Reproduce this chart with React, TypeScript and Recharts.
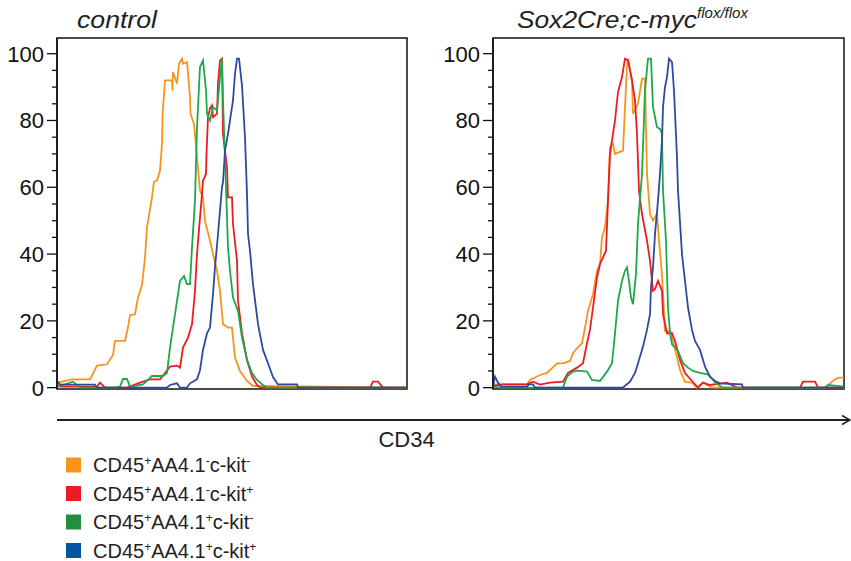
import React from 'react';
import { LineChart, Line, XAxis, YAxis, ReferenceArea } from 'recharts';

type Pt = [number, number];

// ---------- categories / labels ----------
const panelTitles = ['control', 'Sox2Cre;c-myc'];
const panelTitleSup = ['', 'flox/flox'];
const axisLabel = 'CD34';
const legendParts: [string, string][][] = [
  [['CD45', '+'], ['AA4.1', '-'], ['c-kit', '-']],
  [['CD45', '+'], ['AA4.1', '-'], ['c-kit', '+']],
  [['CD45', '+'], ['AA4.1', '+'], ['c-kit', '-']],
  [['CD45', '+'], ['AA4.1', '+'], ['c-kit', '+']],
];
const lineColors = ['#F7941E', '#ED1C24', '#1FA84A', '#2E4A9E'];
const legendColors = ['#F7941E', '#ED1C24', '#258D3E', '#0054A6'];

// ---------- tick values ----------
const yTicks = [0, 5, 10, 15, 20, 25, 30, 35, 40, 45, 50, 55, 60, 65, 70, 75, 80, 85, 90, 95, 100];
const yDomain: [number, number] = [-0.4, 104.7];
const xDomainControl: [number, number] = [0, 350];
const xDomainMutant: [number, number] = [0, 351];

// ---------- control panel series (CD34 channel, % of max) ----------
const controlOrange: Pt[] = [
  [0, 1.5], [15, 2.5], [33, 2.5], [40, 6.6], [50, 7], [56, 9.8], [58, 14], [68, 14], [71, 18], [73, 21.7],
  [78, 22], [81, 27], [85, 30.7], [88, 39], [90, 48], [95, 57], [97, 61.6], [100, 62], [103, 65], [105, 73],
  [105.5, 81.5], [108, 92], [115, 92], [115.5, 89], [116, 94.5], [120, 91], [122, 97], [125, 98.5], [126, 97],
  [130, 97.5], [133, 87], [133.5, 82], [137, 79], [140, 69], [143, 59], [146, 57], [148, 50], [153, 44],
  [156, 40], [160, 35], [163, 29], [166, 19], [171, 18], [175, 18], [178, 9], [183, 5], [190, 2], [196, 0.5],
  [350, 0],
];
const controlRed: Pt[] = [
  [0, 1], [3, 0.3], [40, 0.3], [43, 1.5], [48, 0], [70, 0], [83, 1.5], [93, 2.5], [103, 2.5], [113, 6.3],
  [120, 6.6], [123, 6], [126, 12], [131, 15], [135, 19], [138, 29], [140, 40], [143, 51], [145, 58], [146, 62],
  [149, 64], [149.5, 70], [151, 81], [153, 83.6], [155, 84.5], [156, 81], [160, 82], [161, 91], [163, 98],
  [165, 98.5], [166, 76], [170, 66], [171, 57], [175, 57], [176, 49], [180, 38], [181, 26], [185, 16.3],
  [190, 8.3], [195, 3.3], [200, 0.8], [203, 0], [313, 0], [316, 1.8], [321, 1.8], [326, 0], [350, 0],
];
const controlGreen: Pt[] = [
  [0, 0.5], [8, 1], [16, 1.8], [23, 0], [58, 0], [63, 0.3], [66, 2.6], [70, 2.6], [73, 0.3], [86, 1],
  [95, 3.5], [106, 3.5], [110, 4.4], [113, 12], [116, 18], [120, 26], [123, 32], [127, 33.4], [130, 31],
  [133, 31], [135, 42], [138, 56], [140, 78], [143, 96], [146, 98], [149, 89], [150, 82], [153, 80],
  [156, 84], [160, 83], [163, 93], [165, 98.5], [166, 86], [169, 60], [171, 42], [173, 35], [176, 27],
  [181, 23], [185, 15], [190, 8.3], [195, 4.4], [200, 2.3], [206, 0.8], [210, 0], [350, 0],
];
const controlBlue: Pt[] = [
  [0, 2], [3, 1], [8, 0.9], [38, 0.9], [40, 0], [110, 0], [113, 0.8], [120, 1.3], [123, 0], [130, 0],
  [133, 1.3], [140, 2.5], [143, 5.2], [146, 11.3], [150, 16.3], [153, 18], [156, 28], [158, 36], [161, 46],
  [163, 53], [165, 60], [166, 61.5], [168, 71], [171, 76], [173, 80], [176, 86], [178, 94], [180, 98.5],
  [182, 98.5], [185, 90.5], [188, 75], [190, 58], [191, 46], [193, 41], [196, 31], [201, 19], [206, 11.3],
  [211, 7.3], [216, 3.2], [220, 1.4], [221, 1], [240, 1], [241, 0], [350, 0],
];

// ---------- Sox2Cre;c-myc flox/flox panel series ----------
const mutantOrange: Pt[] = [
  [0, 0.5], [2, 1], [34, 1], [37, 2.3], [47, 3.8], [54, 4.4], [64, 7.3], [70, 7.3], [77, 8], [80, 10.3],
  [84, 11.8], [89, 13.3], [92, 18], [95, 23], [100, 28], [104, 35], [107, 37], [109, 45], [112, 48],
  [115, 56], [117, 72], [120, 73], [122, 70], [130, 71], [132, 84], [134, 96], [135, 98.5], [139, 92],
  [140, 82], [145, 85], [149, 92.5], [152, 92.5], [154, 64], [157, 52], [160, 50], [164, 52], [166, 44],
  [169, 34], [172, 17], [177, 17], [180, 14], [187, 5.3], [192, 1.7], [199, 1.5], [204, 0], [210, 1.5],
  [219, 0], [332, 0], [337, 1.3], [342, 2.5], [346, 3], [351, 3],
];
const mutantRed: Pt[] = [
  [0, 0.5], [10, 1], [34, 1], [40, 1.8], [47, 0.9], [57, 1.5], [70, 1.8], [75, 4.4], [84, 6], [90, 7.3],
  [94, 13.3], [97, 17.3], [100, 24], [104, 33], [107, 37], [110, 39], [113, 41], [115, 56], [117, 70],
  [122, 80], [125, 88.5], [129, 93], [132, 98.5], [135, 98], [139, 92], [142, 86], [144, 76], [146, 59],
  [149, 52], [154, 44], [157, 38], [160, 29], [162, 29.5], [165, 32], [169, 29], [170, 22], [174, 16.3],
  [179, 16.3], [182, 14], [187, 8.3], [192, 4.4], [199, 2], [205, 0], [210, 1.5], [217, 0.8], [234, 1.5],
  [244, 0], [307, 0], [310, 1.8], [322, 1.8], [325, 0], [351, 0],
];
const mutantGreen: Pt[] = [
  [0, 0.3], [7, 0], [70, 0], [74, 3.3], [80, 4.8], [85, 5.1], [94, 4.8], [99, 2.3], [107, 2], [114, 4.8],
  [119, 7.3], [122, 16.3], [125, 26], [129, 32], [132, 35], [134, 36], [136, 32], [138, 27], [140, 25],
  [143, 34], [145, 49], [149, 64], [152, 89], [155, 98.5], [158, 98.5], [160, 84], [164, 78], [167, 77.5],
  [169, 76], [170, 59], [173, 44], [175, 24], [177, 16.3], [179, 13], [185, 11], [190, 7.3], [195, 6],
  [200, 5], [207, 4.4], [215, 4], [222, 1.7], [227, 0.5], [230, 0], [332, 0], [335, 0.8], [351, 0.3],
];
const mutantBlue: Pt[] = [
  [0, 0.5], [2, 3.3], [5, 1.5], [8, 0.3], [34, 0.3], [36, 1], [40, 1], [42, 0], [130, 0], [133, 0.8],
  [137, 1.8], [142, 4.4], [145, 7.3], [150, 12.3], [154, 17.3], [157, 22], [158, 30], [160, 36], [162, 46],
  [165, 56], [167, 64], [169, 74], [170, 84], [172, 90], [174, 93], [176, 98.5], [179, 97.5], [181, 89],
  [184, 69], [185, 59], [189, 40], [192, 32], [195, 24], [199, 17.3], [202, 14], [207, 11.3], [212, 6.3],
  [217, 3.3], [222, 2], [227, 1.3], [249, 1], [250, 0], [351, 0],
];

const controlSeries = [controlOrange, controlRed, controlGreen, controlBlue];
const mutantSeries = [mutantOrange, mutantRed, mutantGreen, mutantBlue];

const FONT = '"Liberation Sans", Arial, Helvetica, sans-serif';

const toRows = (pts: Pt[]) => pts.map(([x, y]) => ({ x, y }));

const makeTick = (labelGap: number, majorLen: number) => (props: any) => {
  const { x, y, payload } = props;
  const v = payload.value as number;
  const major = v % 20 === 0;
  const len = major ? majorLen : 5;
  return (
    <g>
      <line x1={x - len} x2={x} y1={y} y2={y} stroke="#111" strokeWidth={1.3} />
      {major && (
        <text x={x - labelGap} y={y} dy="0.36em" textAnchor="end" fontSize={22} fontFamily={FONT} fill="#111">
          {v}
        </text>
      )}
    </g>
  );
};

interface PanelProps {
  series: Pt[][];
  left: number;
  width: number;
  yAxisWidth: number;
  rightMargin: number;
  xDomain: [number, number];
  labelGap: number;
  majorLen: number;
}

const Panel = ({ series, left, width, yAxisWidth, rightMargin, xDomain, labelGap, majorLen }: PanelProps) => (
  <div style={{ position: 'absolute', left, top: 0 }}>
    <LineChart width={width} height={400} margin={{ top: 38, right: rightMargin, bottom: 11, left: 0 }}>
      <XAxis dataKey="x" type="number" domain={xDomain} hide allowDataOverflow />
      <YAxis
        type="number"
        domain={yDomain}
        ticks={yTicks}
        interval={0}
        width={yAxisWidth}
        tickLine={false}
        tickSize={0}
        tickMargin={0}
        axisLine={{ stroke: '#111', strokeWidth: 1.5 }}
        tick={makeTick(labelGap, majorLen)}
        allowDataOverflow
      />
      <ReferenceArea
        x1={xDomain[0]}
        x2={xDomain[1]}
        y1={yDomain[0]}
        y2={yDomain[1]}
        fill="none"
        fillOpacity={0}
        stroke="#111"
        strokeWidth={1.5}
        ifOverflow="visible"
      />
      {series.map((pts, i) => (
        <Line
          key={i}
          data={toRows(pts)}
          dataKey="y"
          type="linear"
          stroke={lineColors[i]}
          strokeWidth={1.8}
          dot={false}
          activeDot={false}
          isAnimationActive={false}
        />
      ))}
    </LineChart>
  </div>
);

const SupText = ({ parts, x, y }: { parts: [string, string][]; x: number; y: number }) => (
  <text x={x} y={y} fontSize={20} fontFamily={FONT} fill="#222">
    {parts.map(([main, sup], i) => (
      <React.Fragment key={i}>
        <tspan fontSize={20} dy={i === 0 ? 0 : 7}>{main}</tspan>
        <tspan fontSize={12} dy={-7}>{sup}</tspan>
      </React.Fragment>
    ))}
  </text>
);

export default function App() {
  return (
    <div style={{ position: 'absolute', left: 0, top: 0, width: 851, height: 561, background: '#fff', overflow: 'hidden' }}>
      <Panel
        series={controlSeries}
        left={0}
        width={420}
        yAxisWidth={57}
        rightMargin={13}
        xDomain={xDomainControl}
        labelGap={13}
        majorLen={10}
      />
      <Panel
        series={mutantSeries}
        left={430}
        width={421}
        yAxisWidth={63}
        rightMargin={7}
        xDomain={xDomainMutant}
        labelGap={13}
        majorLen={10}
      />
      <svg width={851} height={561} style={{ position: 'absolute', left: 0, top: 0, pointerEvents: 'none' }}>
        <text x={77} y={27.5} fontSize={24} fontStyle="italic" fontFamily={FONT} fill="#222" textLength={80} lengthAdjust="spacingAndGlyphs">
          {panelTitles[0]}
        </text>
        <text x={517} y={27.5} fontSize={24} fontStyle="italic" fontFamily={FONT} fill="#222" textLength={180} lengthAdjust="spacingAndGlyphs">
          {panelTitles[1]}
        </text>
        <text x={697} y={18} fontSize={15} fontStyle="italic" fontFamily={FONT} fill="#222" textLength={51} lengthAdjust="spacingAndGlyphs">
          {panelTitleSup[1]}
        </text>
        <line x1={57} x2={849} y1={420} y2={420} stroke="#222" strokeWidth={2} />
        <polyline points="842,415.5 850,420 842,424.5" fill="none" stroke="#222" strokeWidth={1.5} />
        <text x={406.5} y={446.5} textAnchor="middle" fontSize={22} fontFamily={FONT} fill="#222">
          {axisLabel}
        </text>
        {legendParts.map((parts, i) => {
          const cy = 465 + i * 28.5;
          return (
            <g key={i}>
              <rect x={66} y={cy - 7.5} width={15} height={15} fill={legendColors[i]} />
              <SupText parts={parts} x={93} y={cy + 7} />
            </g>
          );
        })}
      </svg>
    </div>
  );
}
